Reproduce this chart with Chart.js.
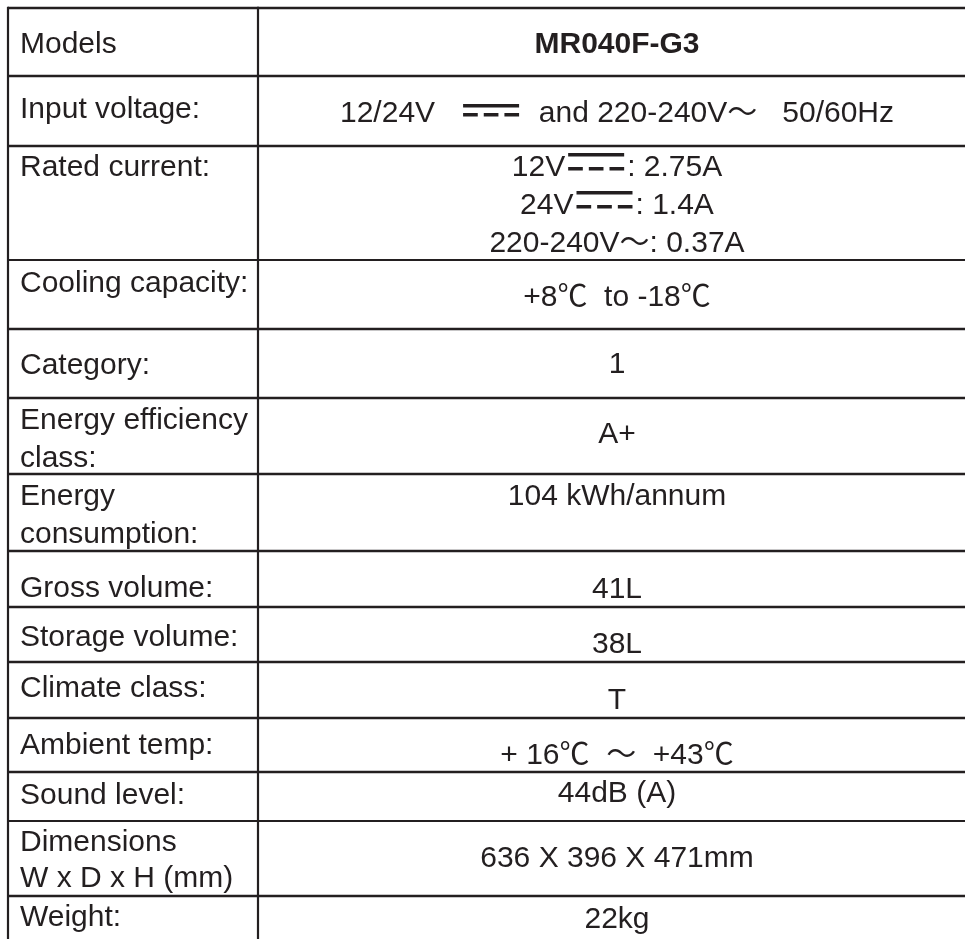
<!DOCTYPE html>
<html><head><meta charset="utf-8">
<script src="https://cdn.jsdelivr.net/npm/chart.js@4.4.0/dist/chart.umd.min.js"></script>
<style>html,body{margin:0;padding:0;background:#fff;overflow:hidden}canvas{display:block}</style>
</head><body>
<canvas id="c" width="965" height="939"></canvas>
<script>
// ---- table content (data) ----
const rowLabels = [
  ["Models"],
  ["Input voltage:"],
  ["Rated current:"],
  ["Cooling capacity:"],
  ["Category:"],
  ["Energy efficiency", "class:"],
  ["Energy", "consumption:"],
  ["Gross volume:"],
  ["Storage volume:"],
  ["Climate class:"],
  ["Ambient temp:"],
  ["Sound level:"],
  ["Dimensions", "W x D x H (mm)"],
  ["Weight:"]
];
const rowValues = [
  ["MR040F-G3"],
  ["12/24V   {DC}  and 220-240V～   50/60Hz"],
  ["12V{DC}: 2.75A", "24V{DC}: 1.4A", "220-240V～: 0.37A"],
  ["+8℃  to -18℃"],
  ["1"],
  ["A+"],
  ["104 kWh/annum"],
  ["41L"],
  ["38L"],
  ["T"],
  ["+ 16℃  ～  +43℃"],
  ["44dB (A)"],
  ["636 X 396 X 471mm"],
  ["22kg"]
];

// ---- layout (positions / styles, in scale units) ----
const LAYOUT = {
  left: 8, divider: 258, right: 965, bottom: 939,
  rowEdges: [8, 76, 146, 260, 329, 398, 474, 551, 607, 662, 718, 772, 821, 896],
  edgeWidths: [2.6, 2.6, 2.6, 2, 2.6, 2.6, 2.6, 2.6, 2.6, 2.6, 2.6, 2.6, 1.8, 2.6],
  labelBaselines: [[53],[118],[176],[292],[374],[429,467],[505,543],[597],[646],[697],[754],[804],[851,887],[926]],
  valueBaselines: [[53],[122],[176,214,252],[306],[373],[443],[505],[598],[653],[709],[764],[802],[867],[928]],
  labelX: 20, valueCenter: 617,
  boldValueRows: [0],
  dcOffsets: { 1: [-18, -9], 2: [-23, -9] },   // [bar, dashes] relative to baseline
  dcWidth: 56
};
const INK = '#231f20';
const FAMILY = '"Liberation Sans", Arial, "Noto Sans CJK SC", sans-serif';
const SIZE = 30;

function drawDC(ctx, x, by, w, off) {
  ctx.fillRect(x, by + off[0], w, 3.5);
  const gap = 6, d = (w - 2 * gap) / 3;
  for (let k = 0; k < 3; k++) ctx.fillRect(x + k * (d + gap), by + off[1], d, 3.5);
}
function drawRich(ctx, str, cx, by, off) {
  const parts = str.split('{DC}');
  const DCW = LAYOUT.dcWidth, PAD = 3;
  let total = 0;
  parts.forEach((p, i) => { total += ctx.measureText(p).width; if (i < parts.length - 1) total += DCW + 2 * PAD; });
  let x = cx - total / 2;
  parts.forEach((p, i) => {
    ctx.fillText(p, x, by);
    x += ctx.measureText(p).width;
    if (i < parts.length - 1) { x += PAD; drawDC(ctx, x, by, DCW, off); x += DCW + PAD; }
  });
}

const tablePlugin = {
  id: 'specTable',
  afterDraw(chart) {
    const ctx = chart.ctx, sx = chart.scales.x, sy = chart.scales.y;
    const X = v => sx.getPixelForValue(v), Y = v => sy.getPixelForValue(v);
    ctx.save();
    ctx.strokeStyle = INK;
    // horizontal rules
    LAYOUT.rowEdges.forEach((e, i) => {
      ctx.lineWidth = LAYOUT.edgeWidths[i];
      ctx.beginPath(); ctx.moveTo(X(LAYOUT.left), Y(e)); ctx.lineTo(X(LAYOUT.right), Y(e)); ctx.stroke();
    });
    // vertical rules
    ctx.lineWidth = 2.2;
    [LAYOUT.left, LAYOUT.divider].forEach(v => {
      ctx.beginPath(); ctx.moveTo(X(v), Y(LAYOUT.rowEdges[0]) - 1.3); ctx.lineTo(X(v), Y(LAYOUT.bottom)); ctx.stroke();
    });
    // text
    ctx.fillStyle = INK;
    ctx.textBaseline = 'alphabetic';
    ctx.textAlign = 'left';
    rowLabels.forEach((lines, r) => {
      ctx.font = `${SIZE}px ${FAMILY}`;
      lines.forEach((t, k) => ctx.fillText(t, X(LAYOUT.labelX), Y(LAYOUT.labelBaselines[r][k])));
    });
    rowValues.forEach((lines, r) => {
      ctx.font = (LAYOUT.boldValueRows.includes(r) ? 'bold ' : '') + `${SIZE}px ${FAMILY}`;
      const off = LAYOUT.dcOffsets[r] || [-20, -10];
      lines.forEach((t, k) => drawRich(ctx, t, X(LAYOUT.valueCenter), Y(LAYOUT.valueBaselines[r][k]), off));
    });
    ctx.restore();
  }
};

new Chart(document.getElementById('c'), {
  type: 'scatter',
  data: { datasets: [{ data: [], pointRadius: 0 }] },
  options: {
    responsive: false, animation: false, devicePixelRatio: 1,
    layout: { padding: 0 },
    plugins: { legend: { display: false }, tooltip: { enabled: false } },
    scales: {
      x: { type: 'linear', min: 0, max: 965, display: false },
      y: { type: 'linear', min: 0, max: 939, reverse: true, display: false }
    }
  },
  plugins: [tablePlugin]
});
</script>
</body></html>
